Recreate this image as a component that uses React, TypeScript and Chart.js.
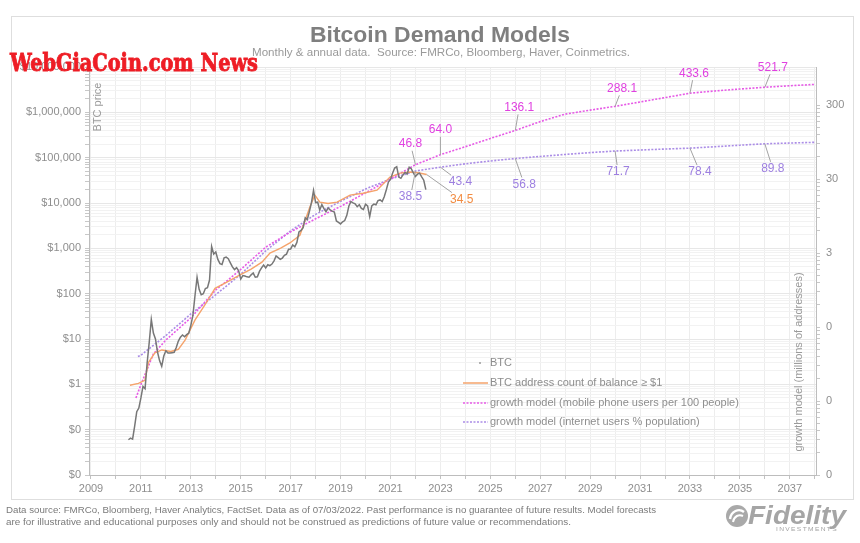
import React, { useEffect, useLayoutEffect, useRef } from "react";
import { Chart, registerables } from "chart.js";

Chart.register(...registerables);

// ---------------- data ----------------
// BTC monthly price (USD), first value of each row is the first month given in btcFirstMonth
const btcYears = [2010, 2011, 2012, 2013, 2014, 2015, 2016, 2017, 2018, 2019, 2020, 2021, 2022];
const btcFirstMonth = [7, 1, 1, 1, 1, 1, 1, 1, 1, 1, 1, 1, 1];
const btc2010 = [0.06, 0.065, 0.062, 0.12, 0.25, 0.3];
const btc2011 = [0.5, 0.9, 0.8, 3.0, 8.4, 27, 13.5, 10, 5.1, 3.3, 2.5, 4.2];
const btc2012 = [5.5, 4.9, 4.9, 5.0, 5.1, 6.5, 9.0, 11, 12.3, 11.2, 12.5, 13.4];
const btc2013 = [20, 33, 90, 230, 125, 95, 100, 130, 135, 200, 1100, 750];
const btc2014 = [830, 570, 460, 440, 620, 640, 590, 480, 390, 340, 375, 320];
const btc2015 = [210, 250, 245, 235, 230, 260, 285, 230, 235, 310, 370, 430];
const btc2016 = [370, 435, 415, 450, 530, 680, 625, 575, 610, 700, 745, 960];
const btc2017 = [970, 1190, 1080, 1350, 2290, 2480, 2870, 4700, 4340, 6470, 10200, 18900];
const btc2018 = [10200, 10400, 6970, 9240, 7490, 6400, 7780, 7040, 6630, 6320, 4020, 3740];
const btc2019 = [3460, 3850, 4100, 5350, 8570, 10800, 10090, 9630, 8290, 9200, 7570, 7190];
const btc2020 = [9350, 8600, 5000, 8660, 9460, 9140, 11320, 11680, 10780, 13780, 19630, 29000];
const btc2021 = [33100, 45100, 58900, 63000, 37300, 35000, 41600, 47200, 43800, 61300, 57000, 46300];
const btc2022 = [38500, 43200, 45500, 37700, 31800, 19800];
const btcRows = [btc2010, btc2011, btc2012, btc2013, btc2014, btc2015, btc2016, btc2017, btc2018, btc2019, btc2020, btc2021, btc2022];

// BTC address count of balance >= $1 (millions), right axis
const addrDates = [2010.56, 2010.9, 2011.16, 2011.3, 2011.56, 2011.84, 2012.2, 2012.5, 2012.77, 2013.17, 2013.57, 2013.97, 2014.37, 2014.97, 2015.4, 2015.85, 2016.17, 2016.6, 2016.97, 2017.37, 2017.77, 2017.97, 2018.17, 2018.5, 2018.86, 2019.38, 2019.9, 2020.46, 2020.98, 2021.38, 2021.78, 2022.1, 2022.45];
const addrValues = [0.049, 0.052, 0.057, 0.099, 0.134, 0.147, 0.14, 0.15, 0.2, 0.375, 0.6, 1.0, 1.18, 1.52, 1.8, 2.26, 3.0, 3.5, 4.1, 5.2, 12.6, 18.2, 14.6, 14.0, 14.6, 18.2, 19.3, 21.2, 31.9, 36.1, 37.3, 36.5, 34.5];

// growth model (mobile phone users per 100 people), right axis
const mobileYears = [2010.8, 2011, 2011.5, 2012, 2013, 2014, 2015, 2016, 2017, 2018, 2019, 2020, 2021, 2022, 2023, 2024, 2025, 2026, 2027, 2028, 2029, 2030, 2031, 2032, 2033, 2034, 2035, 2036, 2037, 2038];
const mobileValues = [0.033, 0.05, 0.13, 0.2, 0.4, 0.95, 1.8, 3.6, 5.8, 8.7, 12.8, 19.5, 30, 46.8, 64.0, 82, 106, 136.1, 179, 226, 256, 288.1, 330, 378, 433.6, 465, 494, 521.7, 547, 570];

// growth model (internet users % population), right axis
const internetYears = [2010.88, 2011, 2012, 2013, 2014, 2015, 2016, 2017, 2018, 2019, 2020, 2021, 2022, 2023, 2024, 2025, 2026, 2027, 2028, 2029, 2030, 2031, 2032, 2033, 2034, 2035, 2036, 2037, 2038];
const internetValues = [0.12, 0.125, 0.23, 0.45, 0.82, 1.55, 3.2, 6.0, 10, 15, 22, 30, 38.5, 43.4, 48.2, 52.6, 56.8, 60.6, 64.5, 68.3, 71.7, 74, 76.3, 78.4, 82, 86, 89.8, 92, 94];

// value call-outs: year on the series, label offset in px
const mobileCallouts = [
  { year: 2022, value: 46.8, dx: -5, dy: -21 },
  { year: 2023, value: 64.0, dx: 0, dy: -25 },
  { year: 2026, value: 136.1, dx: 4, dy: -23 },
  { year: 2030, value: 288.1, dx: 7, dy: -18 },
  { year: 2033, value: 433.6, dx: 4, dy: -20 },
  { year: 2036, value: 521.7, dx: 8, dy: -20 },
];
const internetCallouts = [
  { year: 2022, value: 38.5, dx: -5, dy: 26 },
  { year: 2023, value: 43.4, dx: 20, dy: 15 },
  { year: 2026, value: 56.8, dx: 9, dy: 26 },
  { year: 2030, value: 71.7, dx: 3, dy: 21 },
  { year: 2033, value: 78.4, dx: 10, dy: 24 },
  { year: 2036, value: 89.8, dx: 8, dy: 25 },
];
const addrCallouts = [{ year: 2022.45, value: 34.5, dx: 35, dy: 25 }];

// tick labels
const yearTickLabels = [2009, 2011, 2013, 2015, 2017, 2019, 2021, 2023, 2025, 2027, 2029, 2031, 2033, 2035, 2037];
const priceTicks = [0.01, 0.1, 1, 10, 100, 1000, 10000, 100000, 1000000, 10000000];
const priceTickLabels = ["$0", "$0", "$1", "$10", "$100", "$1,000", "$10,000", "$100,000", "$1,000,000", "$10,000,000"];
const growthTicks = [0.003, 0.03, 0.3, 3, 30, 300];
const growthTickLabels = ["0", "0", "0", "3", "30", "300"];

const seriesLabels = [
  "BTC",
  "BTC address count of balance \u2265 $1",
  "growth model (mobile phone users per 100 people)",
  "growth model (internet users % population)",
];

// ---------------- styles ----------------
const FONT = '"Liberation Sans", Arial, Helvetica, sans-serif';
const C_BTC = "#777777";
const C_ADDR = "#f5a36b";
const C_MOBILE = "#e65ae6";
const C_INTERNET = "#aa8ce6";
const C_MOBILE_TXT = "#e040e0";
const C_INTERNET_TXT = "#9d7fe0";
const C_ADDR_TXT = "#f28c42";
const C_AXIS_TXT = "#8e8e8e";

function logTicks(decades: number[], last: number) {
  const out: { value: number; major: boolean }[] = [];
  decades.forEach((d, i) => {
    const top = i < decades.length - 1 ? 9 : 1;
    for (let k = 1; k <= top; k++) {
      const v = d * k;
      if (v <= last * 1.0001) out.push({ value: v, major: k === 1 });
    }
  });
  return out;
}

function majorIndex(list: number[], v: number) {
  return list.findIndex((t) => Math.abs(Math.log10(t) - Math.log10(v)) < 1e-6);
}

const calloutPlugin = {
  id: "callouts",
  afterDatasetsDraw(chart: any) {
    const { ctx, scales } = chart;
    const groups = [
      { list: mobileCallouts, color: C_MOBILE_TXT },
      { list: internetCallouts, color: C_INTERNET_TXT },
      { list: addrCallouts, color: C_ADDR_TXT },
    ];
    ctx.save();
    ctx.font = `12px ${FONT}`;
    ctx.textAlign = "center";
    ctx.textBaseline = "middle";
    for (const g of groups) {
      for (const a of g.list) {
        const px = scales.x.getPixelForValue(a.year);
        const py = scales.y2.getPixelForValue(a.value);
        const lx = px + a.dx;
        const ly = py + a.dy;
        const text = a.value.toFixed(1);
        const hw = ctx.measureText(text).width / 2 + 2;
        const hh = 7;
        const vx = px - lx;
        const vy = py - ly;
        const t = Math.min(vx ? hw / Math.abs(vx) : Infinity, vy ? hh / Math.abs(vy) : Infinity);
        ctx.strokeStyle = "#a3a3a3";
        ctx.lineWidth = 1;
        ctx.setLineDash([]);
        if (t < 1) {
          ctx.beginPath();
          ctx.moveTo(px, py);
          ctx.lineTo(lx + vx * t, ly + vy * t);
          ctx.stroke();
        }
        ctx.fillStyle = g.color;
        ctx.fillText(text, lx, ly);
      }
    }
    ctx.restore();
  },
  afterDraw(chart: any) {
    const { ctx, chartArea: ca } = chart;
    ctx.save();
    // axis titles
    ctx.fillStyle = "#9a9a9a";
    ctx.font = `11px ${FONT}`;
    ctx.textAlign = "center";
    ctx.textBaseline = "middle";
    ctx.save();
    ctx.translate(ca.left + 9, ca.top + 40);
    ctx.rotate(-Math.PI / 2);
    ctx.fillText("BTC price", 0, 0);
    ctx.restore();
    ctx.save();
    ctx.translate(ca.right - 17, ca.top + 295);
    ctx.rotate(-Math.PI / 2);
    ctx.fillText("growth model (millions of addresses)", 0, 0);
    ctx.restore();

    // legend
    const x0 = ca.left + 374;
    const x1 = ca.left + 399;
    const tx = ca.left + 401;
    const rows = [ca.top + 296, ca.top + 316, ca.top + 336, ca.top + 355];
    ctx.textAlign = "left";
    ctx.font = `11px ${FONT}`;
    rows.forEach((y, i) => {
      ctx.setLineDash([]);
      if (i === 0) {
        ctx.fillStyle = "#9a9a9a";
        ctx.beginPath();
        ctx.arc(ca.left + 391, y, 1, 0, Math.PI * 2);
        ctx.fill();
      } else {
        const col = i === 1 ? C_ADDR : i === 2 ? C_MOBILE : C_INTERNET;
        ctx.strokeStyle = col;
        ctx.lineWidth = 1.5;
        if (i > 1) ctx.setLineDash([2, 1.5]);
        ctx.beginPath();
        ctx.moveTo(x0, y);
        ctx.lineTo(x1, y);
        ctx.stroke();
      }
      ctx.setLineDash([]);
      ctx.fillStyle = C_AXIS_TXT;
      ctx.fillText(seriesLabels[i], tx, y);
    });
    ctx.restore();
  },
};

function FitText(props: { text: string; left: number; top: number; width: number; style: any }) {
  const ref = useRef<HTMLSpanElement>(null);
  useLayoutEffect(() => {
    const el = ref.current;
    if (!el) return;
    el.style.transform = "none";
    const w = el.getBoundingClientRect().width;
    if (w > 0) el.style.transform = `scaleX(${props.width / w})`;
  }, [props.text, props.width]);
  return (
    <span
      ref={ref}
      style={{
        position: "absolute",
        left: props.left,
        top: props.top,
        whiteSpace: "nowrap",
        lineHeight: 1,
        transformOrigin: "0 0",
        ...props.style,
      }}
    >
      {props.text}
    </span>
  );
}

export default function App() {
  const canvasRef = useRef<HTMLCanvasElement>(null);

  useEffect(() => {
    const canvas = canvasRef.current;
    if (!canvas) return;

    const btcPoints: { x: number; y: number }[] = [];
    btcRows.forEach((row, r) => {
      row.forEach((v, i) => {
        btcPoints.push({ x: btcYears[r] + (btcFirstMonth[r] - 1 + i) / 12, y: v });
      });
    });
    const addrPoints = addrDates.map((d, i) => ({ x: d, y: addrValues[i] }));
    const mobilePoints = mobileYears.map((d, i) => ({ x: d, y: mobileValues[i] }));
    const internetPoints = internetYears.map((d, i) => ({ x: d, y: internetValues[i] }));

    const yearGrid: { value: number }[] = [];
    for (let y = 2009; y <= 2038; y++) yearGrid.push({ value: y });

    const priceGrid = logTicks(priceTicks, 1e7);
    const growthGrid = logTicks([0.003, 0.03, 0.3, 3, 30, 300], 980);

    const tickFont = { family: FONT, size: 11 };

    const chart = new Chart(canvas, {
      type: "line",
      data: {
        datasets: [
          { label: seriesLabels[0], data: btcPoints, yAxisID: "y", borderColor: C_BTC, borderWidth: 1.5, pointRadius: 0 },
          { label: seriesLabels[1], data: addrPoints, yAxisID: "y2", borderColor: C_ADDR, borderWidth: 1.4, pointRadius: 0 },
          { label: seriesLabels[2], data: mobilePoints, yAxisID: "y2", borderColor: C_MOBILE, borderWidth: 1.6, borderDash: [2, 1.5], pointRadius: 0 },
          { label: seriesLabels[3], data: internetPoints, yAxisID: "y2", borderColor: C_INTERNET, borderWidth: 1.6, borderDash: [2, 1.5], pointRadius: 0 },
        ],
      },
      options: {
        responsive: false,
        animation: false,
        devicePixelRatio: 1,
        layout: { padding: { left: 0, right: 0, top: 67, bottom: 44 } },
        plugins: { legend: { display: false }, tooltip: { enabled: false }, title: { display: false } },
        scales: {
          x: {
            type: "linear",
            min: 2008.92,
            max: 2038.05,
            afterBuildTicks: (s: any) => {
              s.ticks = yearGrid.map((t) => ({ value: t.value }));
            },
            afterFit: (s: any) => {
              s.height = 24;
            },
            ticks: {
              autoSkip: false,
              maxRotation: 0,
              padding: 3,
              color: C_AXIS_TXT,
              font: tickFont,
              callback: (v: any) => (yearTickLabels.includes(Number(v)) ? String(v) : ""),
            },
            grid: { color: "#ededed", tickLength: 4, tickColor: "#c2c2c2" },
            border: { color: "#bdbdbd" },
          },
          y: {
            type: "logarithmic",
            position: "left",
            min: 0.01,
            max: 1e7,
            afterBuildTicks: (s: any) => {
              s.ticks = priceGrid.map((t) => ({ value: t.value, major: t.major }));
            },
            afterFit: (s: any) => {
              s.width = 89;
            },
            ticks: {
              autoSkip: false,
              padding: 4,
              color: C_AXIS_TXT,
              font: tickFont,
              callback: (v: any) => {
                const i = majorIndex(priceTicks, Number(v));
                return i >= 0 ? priceTickLabels[i] : "";
              },
            },
            grid: {
              color: (c: any) => (c.tick && majorIndex(priceTicks, c.tick.value) >= 0 ? "#e7e7e7" : "#f2f2f2"),
              tickLength: 4,
              tickColor: "#c8c8c8",
            },
            border: { color: "#bdbdbd" },
          },
          y2: {
            type: "logarithmic",
            position: "right",
            min: 0.003,
            max: 980,
            afterBuildTicks: (s: any) => {
              s.ticks = growthGrid.map((t) => ({ value: t.value, major: t.major }));
            },
            afterFit: (s: any) => {
              s.width = 44;
            },
            ticks: {
              autoSkip: false,
              padding: 6,
              color: C_AXIS_TXT,
              font: tickFont,
              callback: (v: any) => {
                const i = majorIndex(growthTicks, Number(v));
                return i >= 0 ? growthTickLabels[i] : "";
              },
            },
            grid: { drawOnChartArea: false, tickLength: 4, tickColor: "#c8c8c8" },
            border: { color: "#bdbdbd" },
          },
        },
      } as any,
      plugins: [calloutPlugin],
    });
    return () => chart.destroy();
  }, []);

  return (
    <div style={{ position: "absolute", left: 0, top: 0, width: 860, height: 543, background: "#fff", overflow: "hidden", fontFamily: FONT }}>
      <div style={{ position: "absolute", left: 11, top: 16, width: 841, height: 482, border: "1px solid #dedede" }} />
      <canvas ref={canvasRef} width={860} height={543} style={{ position: "absolute", left: 0, top: 0, width: 860, height: 543 }} />
      <FitText text="Bitcoin Demand Models" left={310} top={24.4} width={260} style={{ fontSize: 22, fontWeight: 700, color: "#7f7f7f" }} />
      <FitText
        text="Monthly & annual data.  Source: FMRCo, Bloomberg, Haver, Coinmetrics."
        left={252}
        top={47.2}
        width={378}
        style={{ fontSize: 11, color: "#9a9a9a", whiteSpace: "pre" }}
      />
      <FitText
        text="WebGiaCoin.com News"
        left={10}
        top={50}
        width={248}
        style={{ fontSize: 25, fontWeight: 700, color: "#ee1d25", fontFamily: '"DejaVu Serif", serif', WebkitTextStroke: "0.9px #ee1d25" }}
      />
      <FitText
        text="Data source: FMRCo, Bloomberg, Haver Analytics, FactSet. Data as of 07/03/2022. Past performance is no guarantee of future results. Model forecasts"
        left={6}
        top={505.5}
        width={650}
        style={{ fontSize: 9, color: "#7a7a7a", fontFamily: '"Liberation Sans Narrow", "Arial Narrow", ' + FONT }}
      />
      <FitText
        text="are for illustrative and educational purposes only and should not be construed as predictions of future value or recommendations."
        left={6}
        top={517.5}
        width={565}
        style={{ fontSize: 9, color: "#7a7a7a", fontFamily: '"Liberation Sans Narrow", "Arial Narrow", ' + FONT }}
      />
      <svg width={26} height={26} style={{ position: "absolute", left: 724, top: 503 }}>
        <circle cx={13} cy={13} r={11} fill="#a9a9a9" />
        <path d="M6 16 C 7 8, 15 5, 20 9" stroke="#fff" strokeWidth={2.4} fill="none" />
        <path d="M9 19 C 10 13, 15 11, 19 13" stroke="#fff" strokeWidth={2} fill="none" />
      </svg>
      <FitText
        text="Fidelity"
        left={748}
        top={503}
        width={98}
        style={{ fontSize: 25, fontWeight: 700, fontStyle: "italic", color: "#a5a5a5" }}
      />
      <FitText
        text="INVESTMENTS"
        left={776}
        top={527}
        width={62}
        style={{ fontSize: 5, color: "#a5a5a5", letterSpacing: 1 }}
      />
    </div>
  );
}
